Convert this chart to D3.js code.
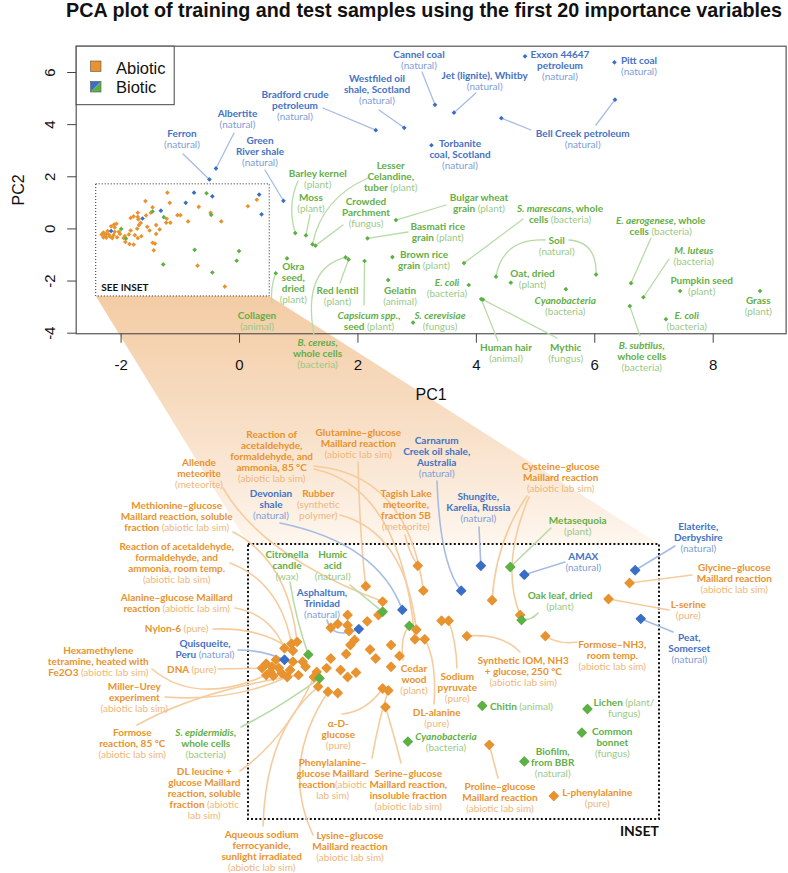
<!DOCTYPE html>
<html><head><meta charset="utf-8">
<script src="https://cdn.jsdelivr.net/npm/d3@7"></script>
<style>
body{margin:0;background:#fff;}
svg text{font-family:Lato,"Open Sans","DejaVu Sans",sans-serif;}
</style>
</head><body>
<svg id="chart" width="788" height="873"></svg>
<script>
// ---------------- DATA (PC1, PC2 scores) ----------------
const title = "PCA plot of training and test samples using the first 20 importance variables";
const xTicks = [-2, 0, 2, 4, 6, 8];
const yTicks = [-4, -2, 0, 2, 4, 6];
const legendLabels = ["Abiotic", "Biotic"];

// Abiotic samples (orange)
const abioticNames = ["Tagish Lake","Glutamine","Acet85a","Allende","Cysteine1","Cysteine2","L-serine","Glycine",
  "FormoseNH3","SynIOM","Pyruvate1","Pyruvate2","Rubber","Acet85b","DL-alanine","a16","a17","a18",
  "aDglucose","PheGlc","SerGlc","Proline","L-Phe","a24","a25","a26","a27","a28","a29","a30","a31","a32",
  "a33","a34","a35","a36","a37","a38","a39","a40","a41","a42","a43","a44","a45","a46","a47","a48",
  "a49","a50","a51","a52","a53","a54","a55","a56","a57","a58","a59","a60","a61","a62","a63","a64"];
const abioticPC1 = [-1.21,-1.58,-1.17,-1.46,-0.68,-0.48,0.15,0.30,
  -0.30,-0.86,-1.04,-0.99,-1.22,-1.23,-1.16,-1.40,-1.34,-1.40,
  -1.46,-1.42,-1.44,-0.70,-0.24,-1.49,-1.57,-1.71,-1.78,-1.71,-1.70,-1.83,-1.66,-1.69,
  -1.55,-1.51,-1.72,-1.83,-1.86,-1.93,-2.03,-2.01,-2.06,-1.95,-1.76,-1.71,-1.65,-1.85,-1.78,-1.92,
  -2.16,-2.11,-2.07,-2.10,-2.29,-2.25,-2.20,-2.26,-2.29,-2.18,-2.12,-2.10,-2.32,-2.22,-2.14,-2.24];
const abioticPC2 = [1.37,1.05,0.98,0.81,0.83,0.60,0.85,1.10,
  0.27,0.27,0.51,0.51,0.37,0.22,0.22,0.13,-0.04,-0.21,
  -0.55,-0.58,-0.84,-1.43,-2.23,0.60,0.50,0.60,0.46,0.44,0.35,0.40,0.21,0.13,
  0.06,-0.08,-0.01,-0.08,-0.23,-0.29,-0.13,-0.21,-0.34,-0.37,-0.26,-0.37,-0.30,-0.60,-0.62,-0.52,
  0.08,0.15,0.18,0.04,-0.16,-0.21,-0.23,-0.29,-0.34,-0.31,-0.26,-0.13,-0.23,-0.10,-0.37,-0.35];

// Biotic samples, natural / fossil organic matter (blue)
const naturalNames = ["Shungite","AMAX","Elaterite","Peat","Carnarum","Devonian","Asphaltum","Quisqueite",
  "Ferron","Albertite","Bradford","Westfiled","Green River","Cannel coal","Jet","Exxon","Pitt coal",
  "Bell Creek 1","Bell Creek 2","Torbanite"];
const naturalPC1 = [-0.76,-0.45,0.34,0.38,-0.90,-1.32,-1.63,-2.16,
  -0.50,-0.39,2.31,2.79,0.75,3.31,3.63,4.83,6.34,4.43,6.35,3.25];
const naturalPC2 = [1.37,1.23,1.30,0.54,0.98,0.68,0.38,-0.10,
  1.88,2.30,3.77,3.86,1.06,4.74,4.44,6.60,6.37,4.23,4.94,3.19];

// Biotic samples, biological (green)
const bioticNames = ["Metasequoia","Oak leaf","Humic acid","Cedar wood","Citronella","S. epidermidis","Chitin",
  "Lichen","Cyanobacteria 2","Biofilm","Common bonnet","Barley kernel","Moss","Lesser Celandine",
  "Crowded Parchment","Bulgar wheat","Basmati","Brown rice","Okra","Collagen","B. cereus","Red lentil",
  "Capsicum","Gelatin","S. cerevisiae","E. coli 1","Human hair","Mythic","S. marescans","Soil 1","Soil 2",
  "Oat","Cyanobacteria","E. aerogenese","M. luteus","B. subtilus","Pumpkin","E. coli 2","Grass"];
const bioticPC1 = [-0.55,-0.47,-1.46,-1.27,-1.99,-1.91,-0.75,
  0.00,-1.28,-0.45,-0.04,0.95,1.13,1.24,
  1.29,2.65,2.17,2.59,0.81,0.62,1.80,1.85,
  2.12,2.52,2.94,3.88,4.09,4.12,3.80,4.34,6.03,
  4.59,5.52,6.62,6.83,6.60,7.45,7.21,8.80];
const bioticPC2 = [1.35,0.52,0.65,0.43,-0.02,-0.39,-0.82,
  -0.87,-1.38,-1.69,-1.24,-0.18,-0.27,-0.61,
  -0.66,0.32,-0.38,-1.10,-1.15,-1.72,-1.11,-1.19,
  -1.25,-1.98,-3.61,-2.17,-2.71,-2.73,-1.33,-1.85,-1.77,
  -2.08,-2.33,-2.10,-2.64,-2.98,-2.40,-3.48,-2.40];

// Zoomed region (inset) in PC units
const insetPC1 = [-2.42, 0.51];
const insetPC2 = [-2.59, 1.71];

// ---------------- ANNOTATION LAYOUT (label text & placement) ----------------
// lines: {..} = light descriptor, _.._ = italic; leads: [target, fromX, fromY, (ctrlX, ctrlY)]
const topLabels = [
 {k:"N",x:182,y:133.5,lines:["Ferron","{(natural)}"],leads:[["Ferron",183,154]]},
 {k:"N",x:237.5,y:113,lines:["Albertite","{(natural)}"],leads:[["Albertite",234,133]]},
 {k:"N",x:295,y:94.7,lines:["Bradford crude","petroleum","{(natural)}"],leads:[["Bradford",323,108]]},
 {k:"N",x:377,y:78.7,lines:["Westfiled oil","shale, Scotland","{(natural)}"],leads:[["Westfiled",379,110]]},
 {k:"N",x:260,y:140.7,lines:["Green","River shale","{(natural)}"],leads:[["Green River",265,170]]},
 {k:"N",x:419,y:54,lines:["Cannel coal","{(natural)}"],leads:[["Cannel coal",422,72]]},
 {k:"N",x:484.7,y:75.7,lines:["Jet (lignite), Whitby","{(natural)}"],leads:[["Jet",476,93]]},
 {k:"N",x:560,y:54.3,lines:["Exxon 44647","petroleum","{(natural)}"]},
 {k:"N",x:639,y:60,lines:["Pitt coal","{(natural)}"]},
 {k:"N",x:582.7,y:133.3,lines:["Bell Creek petroleum","{(natural)}"],leads:[["Bell Creek 1",531,130],["Bell Creek 2",596,125]]},
 {k:"N",x:460,y:143.3,lines:["Torbanite","coal, Scotland","{(natural)}"]},
 {k:"B",x:317.7,y:173.3,lines:["Barley kernel","{(plant)}"],leads:[["Barley kernel",298,181,287,205]]},
 {k:"B",x:311,y:197.3,lines:["Moss","{(plant)}"],leads:[["Moss",310,215]]},
 {k:"B",x:390.7,y:165,lines:["Lesser","Celandine,","tuber {(plant)}"],leads:[["Lesser Celandine",368,178,322,198]]},
 {k:"B",x:366,y:201.7,lines:["Crowded","Parchment","{(fungus)}"],leads:[["Crowded Parchment",343,225]]},
 {k:"B",x:479,y:197.7,lines:["Bulgar wheat","grain {(plant)}"],leads:[["Bulgar wheat",446,205]]},
 {k:"B",x:437.7,y:226.7,lines:["Basmati rice","grain {(plant)}"],leads:[["Basmati",408,232]]},
 {k:"B",x:424,y:254.3,lines:["Brown rice","grain {(plant)}"]},
 {k:"B",x:293.3,y:266.7,lines:["Okra","seed,","dried","{(plant)}"]},
 {k:"B",x:257,y:315.7,lines:["Collagen","{(animal)}"],leads:[["Collagen",272,303,270,288]]},
 {k:"B",x:337.5,y:290,lines:["Red lentil","{(plant)}"],leads:[["Red lentil",340,283]]},
 {k:"B",x:317.5,y:342,lines:["_B. cereus_,","whole cells","{(bacteria)}"],leads:[["B. cereus",314,335,302,268]]},
 {k:"B",x:369,y:315,lines:["_Capsicum spp._,","seed {(plant)}"],leads:[["Capsicum",364,305]]},
 {k:"B",x:400,y:290,lines:["Gelatin","{(animal)}"]},
 {k:"B",x:440,y:315,lines:["_S. cerevisiae_","{(fungus)}"]},
 {k:"B",x:447,y:282.7,lines:["_E. coli_","{(bacteria)}"]},
 {k:"B",x:506,y:347.3,lines:["Human hair","{(animal)}"],leads:[["Human hair",498,341]]},
 {k:"B",x:565.7,y:347.7,lines:["Mythic","{(fungus)}"],leads:[["Mythic",557,338]]},
 {k:"B",x:560,y:208.7,lines:["_S. marescans_, whole","cells {(bacteria)}"],leads:[["S. marescans",523,219]]},
 {k:"B",x:556.7,y:240,lines:["Soil","{(natural)}"],leads:[["Soil 1",545,240,503,238],["Soil 2",569,240,597,242]]},
 {k:"B",x:532.5,y:273.7,lines:["Oat, dried","{(plant)}"]},
 {k:"B",x:565.3,y:300,lines:["_Cyanobacteria_","{(bacteria)}"]},
 {k:"B",x:660.7,y:220.7,lines:["_E. aerogenese_, whole","cells {(bacteria)}"],leads:[["E. aerogenese",651,238]]},
 {k:"B",x:693.7,y:250.3,lines:["_M. luteus_","{(bacteria)}"],leads:[["M. luteus",669,259]]},
 {k:"B",x:641.7,y:345.3,lines:["_B. subtilus_,","whole cells","{(bacteria)}"],leads:[["B. subtilus",640,336]]},
 {k:"B",x:701.7,y:280.3,lines:["Pumpkin seed","{(plant)}"]},
 {k:"B",x:686.7,y:315,lines:["_E. coli_","{(bacteria)}"]},
 {k:"B",x:758.3,y:300,lines:["Grass","{(plant)}"]}
];

const insetLabels = [
 {k:"A",x:271.7,y:434,lines:["Reaction of","acetaldehyde,","formaldehyde, and","ammonia, 85 °C","{(abiotic lab sim)}"],leads:[["Acet85a",314,466,408,474],["Acet85b",314,469,402,488]]},
 {k:"A",x:358.3,y:432.7,lines:["Glutamine–glucose","Maillard reaction","{(abiotic lab sim)}"],leads:[["Glutamine",358,462,360,540]]},
 {k:"A",x:199,y:462.3,lines:["Allende","meteorite","{(meteorite)}"],leads:[["Allende",223,488,262,556]]},
 {k:"N",x:271,y:493.3,lines:["Devonian","shale","{(natural)}"],leads:[["Devonian",280,523,378,543]]},
 {k:"A",x:318.3,y:493.3,lines:["Rubber","{(synthetic}","{polymer)}"],leads:[["Rubber",340,515,405,532]]},
 {k:"A",x:176.7,y:505,lines:["Methionine–glucose","Maillard reaction, soluble","fraction {(abiotic lab sim)}"],leads:[["a51",233,532,288,560]]},
 {k:"A",x:176.7,y:546,lines:["Reaction of acetaldehyde,","formaldehyde, and","ammonia, room temp.","{(abiotic lab sim)}"],leads:[["a50",230,563,280,582]]},
 {k:"A",x:406,y:493.3,lines:["Tagish Lake","meteorite,","fraction 5B","{(meteorite)}"],leads:[["Tagish Lake",405,535,409,552]]},
 {k:"N",x:436.7,y:440,lines:["Carnarum","Creek oil shale,","Australia","{(natural)}"],leads:[["Carnarum",437,481,440,565]]},
 {k:"N",x:478.3,y:496,lines:["Shungite,","Karelia, Russia","{(natural)}"],leads:[["Shungite",479,527]]},
 {k:"A",x:560.7,y:466.7,lines:["Cysteine–glucose","Maillard reaction","{(abiotic lab sim)}"],leads:[["Cysteine1",527,496,496,540],["Cysteine2",529,497,500,565]]},
 {k:"B",x:577.7,y:520.7,lines:["Metasequoia","{(plant)}"],leads:[["Metasequoia",551,528]]},
 {k:"N",x:583.3,y:556.7,lines:["AMAX","{(natural)}"],leads:[["AMAX",565,562]]},
 {k:"N",x:698.3,y:526.7,lines:["Elaterite,","Derbyshire","{(natural)}"],leads:[["Elaterite",675,546]]},
 {k:"A",x:734.3,y:567.7,lines:["Glycine–glucose","Maillard reaction","{(abiotic lab sim)}"],leads:[["Glycine",692,575]]},
 {k:"A",x:688.3,y:604,lines:["L-serine","{(pure)}"],leads:[["L-serine",669,610]]},
 {k:"N",x:689.3,y:637.3,lines:["Peat,","Somerset","{(natural)}"],leads:[["Peat",673,632]]},
 {k:"B",x:560,y:595.7,lines:["Oak leaf, dried","{(plant)}"],leads:[["Oak leaf",538,613,532,620]]},
 {k:"A",x:612.3,y:644.3,lines:["Formose–NH3,","room temp.","{(abiotic lab sim)}"],leads:[["FormoseNH3",577,642,560,645]]},
 {k:"A",x:523.3,y:660,lines:["Synthetic IOM, NH3","+ glucose, 250 °C","{(abiotic lab sim)}"],leads:[["SynIOM",520,652,502,633]]},
 {k:"A",x:457.3,y:676,lines:["Sodium","pyruvate","{(pure)}"],leads:[["Pyruvate2",457,668,456,640]]},
 {k:"A",x:414,y:668.3,lines:["Cedar","wood","{(plant)}"],leads:[["Cedar wood",403,660,400,636]]},
 {k:"A",x:436.7,y:712.3,lines:["DL-alanine","{(pure)}"],leads:[["DL-alanine",434,704,437,660]]},
 {k:"B",x:490,y:706,anchor:"start",lines:["Chitin {(animal)}"]},
 {k:"B",x:624,y:702.3,lines:["Lichen {(plant/}","{fungus)}"]},
 {k:"B",x:446,y:736,lines:["_Cyanobacteria_","{(bacteria)}"]},
 {k:"B",x:612.3,y:731,lines:["Common","bonnet","{(fungus)}"]},
 {k:"B",x:552.7,y:751.7,lines:["Biofilm,","from BBR","{(natural)}"]},
 {k:"A",x:500,y:786,lines:["Proline–glucose","Maillard reaction","{(abiotic lab sim)}"],leads:[["Proline",498,778]]},
 {k:"A",x:597.3,y:792.7,lines:["L-phenylalanine","{(pure)}"]},
 {k:"A",x:408.3,y:773.3,lines:["Serine–glucose","Maillard reaction,","insoluble fraction","{(abiotic lab sim)}"],leads:[["SerGlc",401,763,394,735]]},
 {k:"A",x:332.7,y:762.7,lines:["Phenylalanine–","glucose Maillard","reaction{(abiotic}","{lab sim)}"],leads:[["PheGlc",372,758,379,718]]},
 {k:"A",x:338.3,y:723.3,lines:["α-D-","glucose","{(pure)}"],leads:[["aDglucose",342,714,366,712]]},
 {k:"A",x:261.7,y:834.3,lines:["Aqueous sodium","ferrocyanide,","sunlight irradiated","{(abiotic lab sim)}"],leads:[["a48",263,826,266,730]]},
 {k:"A",x:350,y:835.3,lines:["Lysine–glucose","Maillard reaction","{(abiotic lab sim)}"],leads:[["a46",313,835,280,765]]},
 {k:"A",x:132.3,y:732.3,lines:["Formose","reaction, 85 °C","{(abiotic lab sim)}"],leads:[["a41",137,725,200,690]]},
 {k:"B",x:205.7,y:732.7,lines:["_S. epidermidis_,","whole cells","{(bacteria)}"],leads:[["S. epidermidis",241,727,282,706]]},
 {k:"A",x:204.3,y:771,lines:["DL leucine +","glucose Maillard","reaction, soluble","fraction {(abiotic}","{lab sim)}"],leads:[["a42",240,771,286,738]]},
 {k:"A",x:98.3,y:650,lines:["Hexamethylene","tetramine, heated with","Fe2O3 {(abiotic lab sim)}"],leads:[["a57",152,669,196,706]]},
 {k:"A",x:191.7,y:669.3,lines:["DNA {(pure)}"],leads:[["a61",218,669]]},
 {k:"A",x:134.3,y:686.7,lines:["Miller–Urey","experiment","{(abiotic lab sim)}"],leads:[["a63",165,697,232,702]]},
 {k:"N",x:205,y:643.3,lines:["Quisqueite,","Peru {(natural)}"],leads:[["Quisqueite",238,650,262,650]]},
 {k:"A",x:176.7,y:628.7,lines:["Nylon-6 {(pure)}"],leads:[["a52",213,629,262,627]]},
 {k:"A",x:176.7,y:597.7,lines:["Alanine–glucose Maillard","reaction {(abiotic lab sim)}"],leads:[["a49",235,608,270,614]]},
 {k:"B",x:287,y:554.3,lines:["Citronella","candle","{(wax)}"],leads:[["Citronella",290,582,296,620]]},
 {k:"B",x:332.7,y:554.3,lines:["Humic","acid","{(natural)}"],leads:[["Humic acid",350,585]]},
 {k:"N",x:322,y:592.3,lines:["Asphaltum,","Trinidad","{(natural)}"],leads:[["Asphaltum",327,620,332,640]]}
];

// ---------------- STYLE ----------------
const COL = {
  A:{pt:"#E8932F", txt:"#E8922D", light:"#F0B67A", line:"#F6CC9F"},
  N:{pt:"#3A6EC6", txt:"#4472C4", light:"#7D9DD7", line:"#A6BCE5"},
  B:{pt:"#5CB045", txt:"#63AE47", light:"#99C987", line:"#B7DBA6"}
};

// ---------------- BUILD ----------------
const points = [];
abioticNames.forEach((n,i)=>points.push({name:n,k:"A",pc1:abioticPC1[i],pc2:abioticPC2[i]}));
naturalNames.forEach((n,i)=>points.push({name:n,k:"N",pc1:naturalPC1[i],pc2:naturalPC2[i]}));
bioticNames.forEach((n,i)=>points.push({name:n,k:"B",pc1:bioticPC1[i],pc2:bioticPC2[i]}));
const byName = new Map(points.map(p=>[p.name,p]));

const svg = d3.select("#chart");

const xTop = d3.scaleLinear().domain([-2,8]).range([120.6,712.7]);
const yTop = d3.scaleLinear().domain([-4,6]).range([332.7,72]);
const frame = {x0:-2.75, x1:9.24, y0:-4.04, y1:6.99};
const xIn = d3.scaleLinear().domain(insetPC1).range([248,659]);
const yIn = d3.scaleLinear().domain(insetPC2).range([819,544]);

// gradient shading (zoom funnel)
const defs = svg.append("defs");
const grad = defs.append("linearGradient").attr("id","fun").attr("gradientUnits","userSpaceOnUse")
  .attr("x1",0).attr("y1",yTop(insetPC2[0])).attr("x2",0).attr("y2",yIn(insetPC2[1]));
grad.append("stop").attr("offset",0).attr("stop-color","#F3CCA4");
grad.append("stop").attr("offset",0.55).attr("stop-color","#F8E0C8");
grad.append("stop").attr("offset",1).attr("stop-color","#FEF6EE");
svg.append("polygon")
  .attr("points",[[xTop(insetPC1[0]),yTop(insetPC2[0])],[xTop(insetPC1[1]),yTop(insetPC2[0])],
                   [xIn(insetPC1[1]),yIn(insetPC2[1])],[xIn(insetPC1[0]),yIn(insetPC2[1])]].map(p=>p.join(",")).join(" "))
  .attr("fill","url(#fun)");

// title
const tt = svg.append("text").attr("x",66).attr("y",17).attr("font-weight",700)
  .style("font-family","'Liberation Sans',Arial,sans-serif").attr("font-size",17).attr("fill","#111").text(title);
const tl = tt.node().getComputedTextLength();
tt.attr("font-size", 17*716/tl);

// plot frame
svg.append("rect").attr("x",xTop(frame.x0)).attr("y",yTop(frame.y1))
  .attr("width",xTop(frame.x1)-xTop(frame.x0)).attr("height",yTop(frame.y0)-yTop(frame.y1))
  .attr("fill","none").attr("stroke","#555").attr("stroke-width",1.2);

// axes
const axFont = "'Liberation Sans',Arial,sans-serif";
const gx = svg.append("g").attr("transform",`translate(0,${yTop(frame.y0)})`)
  .call(d3.axisBottom(xTop).tickValues(xTicks).tickSize(9).tickPadding(17).tickFormat(d=>String(d)));
gx.select(".domain").remove();
gx.selectAll(".tick line").attr("stroke","#444");
gx.selectAll(".tick text").style("font-family",axFont).attr("font-size",15).attr("fill","#111");
const gy = svg.append("g").attr("transform",`translate(${xTop(frame.x0)},0)`)
  .call(d3.axisLeft(yTop).tickValues(yTicks).tickSize(9).tickFormat(d=>String(d)));
gy.select(".domain").remove();
gy.selectAll(".tick line").attr("stroke","#444");
gy.selectAll(".tick text").attr("x",null).attr("dy",null).attr("text-anchor","middle")
  .attr("transform","translate(-21,0) rotate(-90)").style("font-family",axFont).attr("font-size",15).attr("fill","#111");
svg.append("text").attr("x",(xTop(frame.x0)+xTop(frame.x1))/2).attr("y",400).attr("text-anchor","middle")
  .style("font-family",axFont).attr("font-size",16).attr("fill","#111").text("PC1");
svg.append("text").attr("transform",`translate(24,${(yTop(frame.y0)+yTop(frame.y1))/2}) rotate(-90)`).attr("text-anchor","middle")
  .style("font-family",axFont).attr("font-size",16).attr("fill","#111").text("PC2");

// legend
const lg = svg.append("g");
lg.append("rect").attr("x",xTop(frame.x0)).attr("y",yTop(frame.y1)).attr("width",98).attr("height",58.5)
  .attr("fill","#fff").attr("stroke","#444").attr("stroke-width",1);
lg.append("rect").attr("x",90.5).attr("y",61).attr("width",10.5).attr("height",10.5).attr("fill",COL.A.pt).attr("stroke","#555").attr("stroke-width",0.6);
lg.append("polygon").attr("points","90.5,81.5 101,81.5 90.5,92").attr("fill",COL.N.pt);
lg.append("polygon").attr("points","101,81.5 101,92 90.5,92").attr("fill",COL.B.pt);
lg.append("rect").attr("x",90.5).attr("y",81.5).attr("width",10.5).attr("height",10.5).attr("fill","none").attr("stroke","#555").attr("stroke-width",0.6);
legendLabels.forEach((s,i)=>lg.append("text").attr("x",116).attr("y",73.5+i*19.5).style("font-family",axFont)
  .attr("font-size",16.5).attr("fill","#111").text(s));

// inset outline in top plot
svg.append("rect").attr("x",xTop(insetPC1[0])).attr("y",yTop(insetPC2[1]))
  .attr("width",xTop(insetPC1[1])-xTop(insetPC1[0])).attr("height",yTop(insetPC2[0])-yTop(insetPC2[1]))
  .attr("fill","none").attr("stroke","#222").attr("stroke-width",1).attr("stroke-dasharray","1,2");
svg.append("text").attr("x",xTop(insetPC1[0])+5.5).attr("y",yTop(insetPC2[0])-4.5).attr("font-weight",700)
  .attr("font-size",10).attr("fill","#111").text("SEE INSET");

// inset outline (big)
svg.append("rect").attr("x",xIn(insetPC1[0])).attr("y",yIn(insetPC2[1]))
  .attr("width",xIn(insetPC1[1])-xIn(insetPC1[0])).attr("height",yIn(insetPC2[0])-yIn(insetPC2[1]))
  .attr("fill","none").attr("stroke","#111").attr("stroke-width",2).attr("stroke-dasharray","2,2.2");
svg.append("text").attr("x",xIn(insetPC1[1])).attr("y",yIn(insetPC2[0])+17).attr("text-anchor","end")
  .attr("font-weight",700).attr("font-size",14).attr("fill","#111").text("INSET");

// helpers
function leader(g, lead, sx, sy, k, w){
  const p = byName.get(lead[0]);
  const ex = sx(p.pc1), ey = sy(p.pc2);
  const path = d3.path();
  path.moveTo(lead[1], lead[2]);
  if (lead.length > 3) path.quadraticCurveTo(lead[3], lead[4], ex, ey); else path.lineTo(ex, ey);
  g.append("path").attr("d", path.toString()).attr("fill","none").attr("stroke", COL[k].line)
    .attr("stroke-width", w).attr("stroke-linecap","round");
}
function label(g, L){
  L.lines.forEach((ln,i)=>{
    const t = g.append("text").attr("x",L.x).attr("y",L.y+3.6+i*11).attr("text-anchor",L.anchor||"middle")
      .attr("font-size",10).attr("xml:space","preserve").style("white-space","pre");
    (ln.match(/\{[^}]*\}|_[^_]*_|[^{_]+/g)||[]).forEach(s=>{
      const ts = t.append("tspan");
      if (s[0]==="{") ts.text(s.slice(1,-1)).attr("font-weight",400).attr("fill",COL[L.k].light);
      else if (s[0]==="_") ts.text(s.slice(1,-1)).attr("font-weight",700).attr("font-style","italic").attr("fill",COL[L.k].txt);
      else ts.text(s).attr("font-weight",700).attr("fill",COL[L.k].txt);
    });
  });
}
const diamond = a => d3.symbol(d3.symbolSquare, a)();

// top plot leaders, points, labels
const gTopLines = svg.append("g");
topLabels.forEach(L=>(L.leads||[]).forEach(ld=>leader(gTopLines, ld, xTop, yTop, L.k, 1.3)));
svg.append("g").selectAll("path").data(points).join("path")
  .attr("d", diamond(11))
  .attr("transform", d=>`translate(${xTop(d.pc1)},${yTop(d.pc2)}) rotate(45)`)
  .attr("fill", d=>COL[d.k].pt);
const gTopLab = svg.append("g");
topLabels.forEach(L=>label(gTopLab, L));

// inset leaders, points, labels
const gInLines = svg.append("g");
insetLabels.forEach(L=>(L.leads||[]).forEach(ld=>leader(gInLines, ld, xIn, yIn, L.k, 1.6)));
const inPts = points.filter(p=>p.pc1>=insetPC1[0] && p.pc1<=insetPC1[1] && p.pc2>=insetPC2[0] && p.pc2<=insetPC2[1]);
const order = {A:0,N:1,B:2};
inPts.sort((a,b)=>order[a.k]-order[b.k]);
svg.append("g").selectAll("path").data(inPts).join("path")
  .attr("d", diamond(40))
  .attr("transform", d=>`translate(${xIn(d.pc1)},${yIn(d.pc2)}) rotate(45)`)
  .attr("fill", d=>COL[d.k].pt).attr("stroke", d=>COL[d.k].pt).attr("stroke-width",1.3).attr("stroke-linejoin","round");
const gInLab = svg.append("g");
insetLabels.forEach(L=>label(gInLab, L));
</script>
</body></html>
